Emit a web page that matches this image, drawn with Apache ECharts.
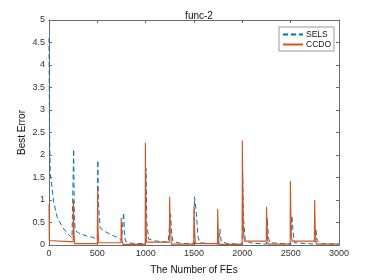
<!DOCTYPE html>
<html>
<head>
<meta charset="utf-8">
<script src="https://cdn.jsdelivr.net/npm/echarts@6/dist/echarts.min.js"></script>
<style>html,body{margin:0;padding:0;background:#fff;}#c{width:374px;height:280px;}</style>
</head>
<body>
<div id="c"></div>
<script>
var title = 'func-2';
var xName = 'The Number of FEs';
var yName = 'Best Error';
var seriesNames = ['SELS', 'CCDO'];
var xTicks = [0, 500, 1000, 1500, 2000, 2500, 3000];
var yTicks = [0, 0.5, 1, 1.5, 2, 2.5, 3, 3.5, 4, 4.5, 5];

var selsX = [0, 5, 13, 31, 48, 83, 134, 186, 238, 250, 255, 262, 272, 303, 389, 450, 500, 505, 512, 530, 579, 650, 717, 750, 765, 772, 780, 790, 850, 1000, 1003, 1012, 1030, 1100, 1233, 1250, 1258, 1268, 1280, 1350, 1500, 1505, 1525, 1540, 1560, 1750, 1768, 1780, 1850, 2000, 2003, 2012, 2030, 2100, 2250, 2258, 2270, 2290, 2500, 2512, 2525, 2540, 2750, 2760, 2775, 2800, 3000];
var selsY = [4.6, 2.6, 1.58, 1.29, 0.96, 0.63, 0.41, 0.27, 0.16, 0.12, 2.13, 0.6, 0.32, 0.27, 0.2, 0.17, 0.13, 1.88, 0.9, 0.38, 0.3, 0.22, 0.16, 0.1, 0.06, 0.72, 0.3, 0.08, 0.04, 0.03, 1.7, 0.5, 0.13, 0.09, 0.06, 0.03, 0.68, 0.3, 0.09, 0.04, 0.03, 1.07, 0.7, 0.2, 0.05, 0.02, 0.35, 0.08, 0.03, 0.02, 1.6, 0.6, 0.1, 0.04, 0.02, 0.6, 0.15, 0.05, 0.02, 0.65, 0.3, 0.05, 0.02, 0.37, 0.1, 0.03, 0.02];

var ccdoX = [0, 3, 250, 252, 258, 265, 500, 503, 508, 515, 745, 747, 755, 765, 995, 997, 1003, 1010, 1245, 1248, 1255, 1260, 1265, 1497, 1500, 1507, 1515, 1743, 1745, 1752, 1760, 1998, 2000, 2005, 2012, 2020, 2248, 2250, 2257, 2265, 2495, 2497, 2505, 2515, 2745, 2748, 2755, 2765, 3000];
var ccdoY = [0.9, 0.1, 0.07, 1.0, 0.3, 0.03, 0.03, 1.25, 0.3, 0.05, 0.05, 0.6, 0.1, 0.015, 0.015, 2.27, 0.5, 0.065, 0.065, 1.07, 0.3, 0.25, 0.02, 0.02, 0.87, 0.3, 0.03, 0.03, 0.8, 0.2, 0.015, 0.015, 2.32, 1.2, 0.3, 0.087, 0.087, 0.85, 0.3, 0.02, 0.02, 1.42, 0.3, 0.087, 0.087, 1.0, 0.3, 0.02, 0.02];

function pairs(xs, ys) { return xs.map(function (x, i) { return [x, ys[i]]; }); }

var axisCol = '#6b6b6b';
var txtCol = '#333';
var chart = echarts.init(document.getElementById('c'), null, {renderer: 'canvas'});
chart.setOption({
  animation: false,
  backgroundColor: '#fff',
  title: {text: title, left: 194, textAlign: 'center', top: 6,
    textStyle: {fontSize: 10, fontWeight: 'normal', color: '#111', fontFamily: 'Liberation Sans, Arial'}},
  legend: {
    data: seriesNames, orient: 'vertical', left: 279, top: 27,
    itemWidth: 20, itemHeight: 8, itemGap: 1, padding: [3, 3, 2, 3],
    itemStyle: {opacity: 0},
    backgroundColor: '#fff', borderColor: '#999', borderWidth: 1,
    textStyle: {fontSize: 8.5, color: '#111', fontFamily: 'Liberation Sans, Arial', padding: [0,0,0,-2]}
  },
  grid: {left: 49, top: 20, right: 35, bottom: 31},
  xAxis: [{
    type: 'value', min: 0, max: 3000, interval: 500,
    name: xName, nameLocation: 'middle', nameGap: 20, nameMoveOverlap: false,
    nameTextStyle: {fontSize: 10, color: '#111', fontFamily: 'Liberation Sans, Arial'},
    axisLine: {show: true, lineStyle: {color: axisCol}},
    axisTick: {show: true, inside: true, length: 3, lineStyle: {color: axisCol}},
    axisLabel: {fontSize: 9, color: txtCol, margin: 4, fontFamily: 'Liberation Sans, Arial',
      formatter: function (v) { return String(v); }},
    splitLine: {show: false}
  }, {
    type: 'value', min: 0, max: 3000, interval: 500, position: 'top',
    axisLine: {show: true, onZero: false, lineStyle: {color: axisCol}},
    axisTick: {show: true, inside: true, length: 3, lineStyle: {color: axisCol}},
    axisLabel: {show: false}, splitLine: {show: false}
  }],
  yAxis: [{
    type: 'value', min: 0, max: 5, interval: 0.5,
    name: yName, nameLocation: 'middle', nameGap: 22, nameMoveOverlap: false,
    nameTextStyle: {fontSize: 10, color: '#111', fontFamily: 'Liberation Sans, Arial'},
    axisLine: {show: true, lineStyle: {color: axisCol}},
    axisTick: {show: true, inside: true, length: 3, lineStyle: {color: axisCol}},
    axisLabel: {fontSize: 9, color: txtCol, margin: 4, fontFamily: 'Liberation Sans, Arial',
      formatter: function (v) { return String(v); }},
    splitLine: {show: false}
  }, {
    type: 'value', min: 0, max: 5, interval: 0.5, position: 'right',
    axisLine: {show: true, onZero: false, lineStyle: {color: axisCol}},
    axisTick: {show: true, inside: true, length: 3, lineStyle: {color: axisCol}},
    axisLabel: {show: false}, splitLine: {show: false}
  }],
  series: [{
    name: seriesNames[0], type: 'line', xAxisIndex: 0, yAxisIndex: 0,
    data: pairs(selsX, selsY), showSymbol: false, symbol: 'none',
    lineStyle: {color: '#0072BD', width: 1, type: [5, 3]}, itemStyle: {color: '#0072BD'}
  }, {
    name: seriesNames[1], type: 'line', xAxisIndex: 0, yAxisIndex: 0,
    data: pairs(ccdoX, ccdoY), showSymbol: false, symbol: 'none',
    lineStyle: {color: '#D95319', width: 1.1}, itemStyle: {color: '#D95319'}
  }]
});
</script>
</body>
</html>
